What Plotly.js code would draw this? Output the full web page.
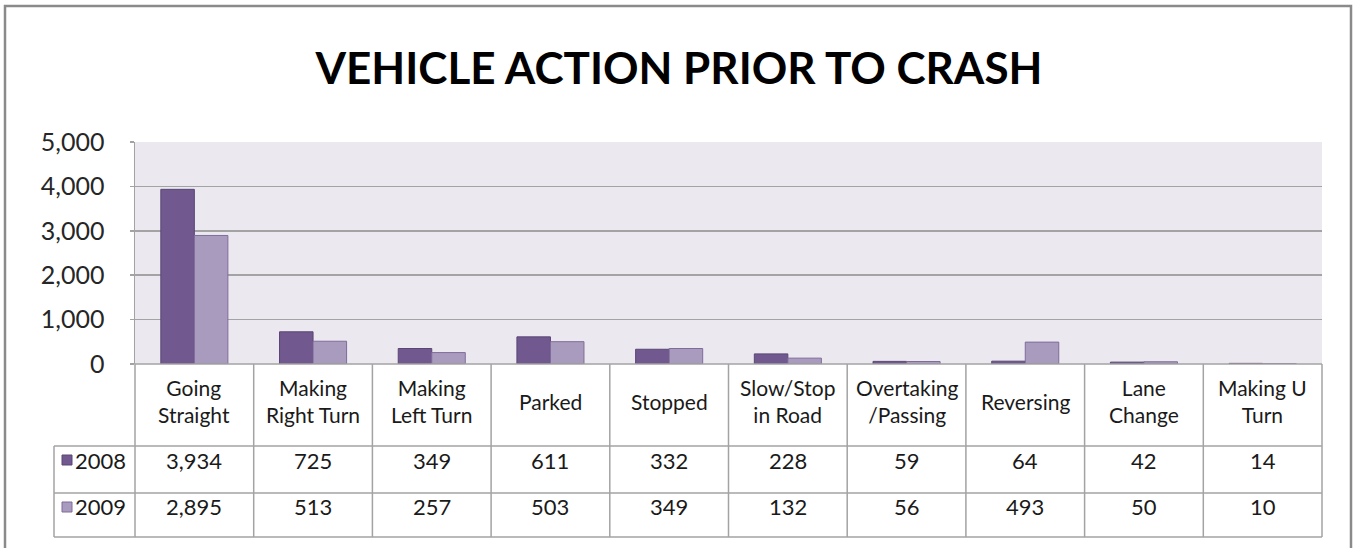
<!DOCTYPE html>
<html>
<head>
<meta charset="utf-8">
<script src="https://cdn.plot.ly/plotly-3.0.1.min.js"></script>
<style>html,body{margin:0;padding:0;background:#fff;}#chart{width:1355px;height:548px;}</style>
</head>
<body>
<div id="chart"></div>
<script>
// ---- data ----
const categories = ["Going Straight","Making Right Turn","Making Left Turn","Parked","Stopped","Slow/Stop in Road","Overtaking /Passing","Reversing","Lane Change","Making U Turn"];
const categoryLabels = ["Going<br>Straight","Making<br>Right Turn","Making<br>Left Turn","Parked","Stopped","Slow/Stop<br>in Road","Overtaking<br>/Passing","Reversing","Lane<br>Change","Making U<br>Turn"];
const series2008 = [3934, 725, 349, 611, 332, 228, 59, 64, 42, 14];
const series2009 = [2895, 513, 257, 503, 349, 132, 56, 493, 50, 10];
const seriesNames = ["2008", "2009"];
const yTickValues = [0, 1000, 2000, 3000, 4000, 5000];

// ---- styling ----
const W = 1355, H = 548;
const plotL = 135, plotR = 1322, plotT = 142, plotB = 364;
const pw = plotR - plotL, ph = plotB - plotT;
const px = v => (v - plotL) / pw;          // pixel x -> paper x
const py = v => (plotB - v) / ph;          // pixel y -> paper y
const col2008 = "#71588f", col2009 = "#a99bbd";
const line2008 = "#5a4675", line2009 = "#7f6c9c";
const gridCol = "#a3a3a3";
const font = "Lato, 'Open Sans', sans-serif";
const fmt = v => v.toLocaleString("en-US");

const traces = [
  {type: "bar", name: seriesNames[0], x: categories, y: series2008,
   marker: {color: col2008, line: {color: line2008, width: 1}}, hoverinfo: "x+y+name"},
  {type: "bar", name: seriesNames[1], x: categories, y: series2009,
   marker: {color: col2009, line: {color: line2009, width: 1}}, hoverinfo: "x+y+name"}
];

const n = categories.length;
const shapes = [];
const annotations = [];
const rowHeadTop = 364, row1Top = 446, row2Top = 493, rowBottom = 537, legLeft = 54;
const lineStyle = {color: gridCol, width: 1.5};

// outer chart frame
shapes.push({type: "rect", xref: "paper", yref: "paper", x0: px(5), x1: px(1351), y0: py(6), y1: py(600),
  line: {color: "#8a8a8a", width: 2.5}, fillcolor: "rgba(0,0,0,0)", layer: "below"});

// table horizontal lines
shapes.push({type: "line", xref: "paper", yref: "paper", x0: 0, x1: 1, y0: py(rowHeadTop), y1: py(rowHeadTop), line: lineStyle});
[row1Top, row2Top, rowBottom].forEach(r => shapes.push({type: "line", xref: "paper", yref: "paper",
  x0: px(legLeft), x1: 1, y0: py(r), y1: py(r), line: lineStyle}));
// table vertical lines
for (let i = 0; i <= n; i++) {
  shapes.push({type: "line", xref: "paper", yref: "paper", x0: i / n, x1: i / n,
    y0: py(rowHeadTop), y1: py(rowBottom), line: lineStyle});
}
shapes.push({type: "line", xref: "paper", yref: "paper", x0: px(legLeft), x1: px(legLeft),
  y0: py(row1Top), y1: py(rowBottom), line: lineStyle});

// legend keys inside table
const keyRows = [[460, col2008, line2008], [507, col2009, line2009]];
keyRows.forEach(([cy, c, lc]) => shapes.push({type: "rect", xref: "paper", yref: "paper",
  x0: px(62), x1: px(72), y0: py(cy - 5), y1: py(cy + 5), fillcolor: c, line: {color: lc, width: 1}}));

// header row labels
categories.forEach((c, i) => annotations.push({xref: "x", yref: "paper", x: c, y: py(401),
  text: categoryLabels[i], showarrow: false, xanchor: "center", yanchor: "middle",
  font: {family: font, size: 21, color: "#1a1a1a"}}));
// value rows
[[series2008, 460], [series2009, 507]].forEach(([vals, cy]) => {
  vals.forEach((v, i) => annotations.push({xref: "x", yref: "paper", x: categories[i], y: py(cy),
    text: fmt(v), showarrow: false, xanchor: "center", yanchor: "middle",
    font: {family: font, size: 22, color: "#1a1a1a"}}));
});
// series names
[[seriesNames[0], 460], [seriesNames[1], 507]].forEach(([t, cy]) => annotations.push({
  xref: "paper", yref: "paper", x: px(73), y: py(cy), text: t, showarrow: false,
  xanchor: "left", yanchor: "middle", font: {family: font, size: 22, color: "#1a1a1a"}}));

const layout = {
  width: W, height: H,
  margin: {l: plotL, r: W - plotR, t: plotT, b: H - plotB, pad: 0},
  paper_bgcolor: "#ffffff",
  plot_bgcolor: "#ebe9ef",
  showlegend: false,
  barmode: "group",
  bargap: 0.435,
  bargroupgap: 0,
  title: {text: "VEHICLE ACTION PRIOR TO CRASH", x: 679 / W, xref: "container", xanchor: "center",
    y: 1 - 69 / H, yref: "container", yanchor: "middle",
    font: {family: font, size: 44, color: "#000", weight: 700}},
  xaxis: {type: "category", showticklabels: false, ticks: "", showgrid: false, zeroline: false,
    showline: false, fixedrange: true},
  yaxis: {range: [0, 5000], tickvals: yTickValues, ticktext: yTickValues.map(fmt),
    showgrid: true, gridcolor: gridCol, gridwidth: 1.5, zeroline: false,
    showline: true, linecolor: gridCol, linewidth: 1.5,
    ticks: "outside", ticklen: 4, tickcolor: gridCol, tickwidth: 1.5,
    ticklabelstandoff: 20,
    tickfont: {family: font, size: 25, color: "#262626"}, fixedrange: true},
  shapes: shapes,
  annotations: annotations
};

Plotly.newPlot("chart", traces, layout, {displayModeBar: false, staticPlot: true});
</script>
</body>
</html>
